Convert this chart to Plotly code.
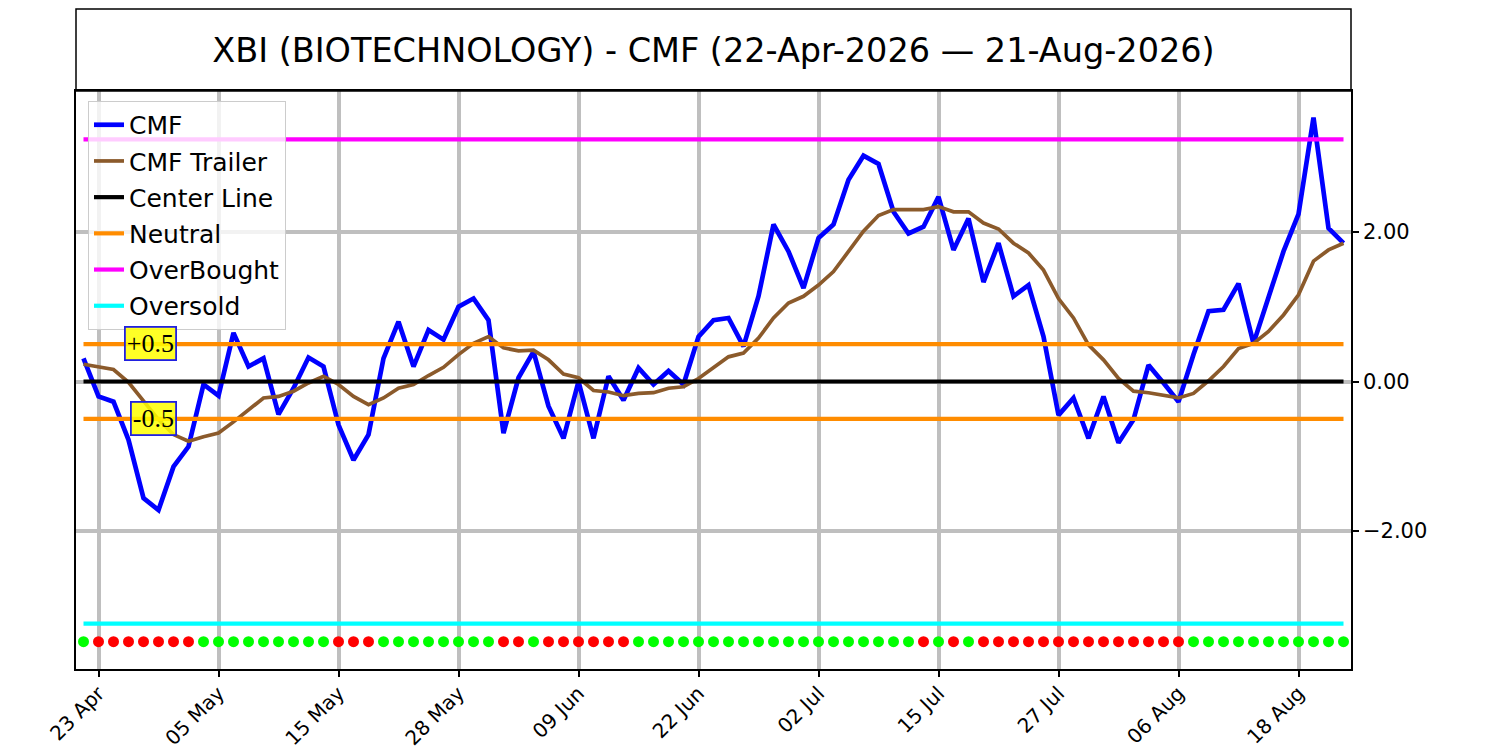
import numpy as np
import pandas as pd
import plotly.graph_objects as go

titolo = "XBI (BIOTECHNOLOGY) - CMF (22-Apr-2026 — 21-Aug-2026)"

# giorni di borsa (festivi NYSE esclusi)
festivi = ["2026-05-25", "2026-06-19", "2026-07-03"]
giorni = pd.bdate_range("2026-04-22", "2026-08-21", freq="C", holidays=festivi)
date = [d.strftime("%Y-%m-%d") for d in giorni]

cmf = [0.31, -0.20, -0.27, -0.78, -1.56, -1.72, -1.14, -0.87, -0.04, -0.19,
       0.65, 0.20, 0.31, -0.44, -0.09, 0.32, 0.20, -0.58, -1.05, -0.71,
       0.31, 0.80, 0.20, 0.69, 0.56, 1.00, 1.11, 0.82, -0.69, 0.05,
       0.40, -0.33, -0.76, 0.00, -0.76, 0.07, -0.25, 0.18, -0.04, 0.14,
       -0.04, 0.60, 0.82, 0.85, 0.47, 1.14, 2.10, 1.74, 1.25, 1.92,
       2.10, 2.70, 3.02, 2.91, 2.27, 1.98, 2.07, 2.47, 1.76, 2.18,
       1.33, 1.85, 1.14, 1.29, 0.60, -0.45, -0.22, -0.76, -0.20, -0.82,
       -0.51, 0.22, -0.02, -0.27, 0.36, 0.94, 0.96, 1.31, 0.51, 1.11,
       1.74, 2.24, 3.53, 2.05, 1.85]

cmf_trailer = [0.23, 0.20, 0.16, -0.01, -0.27, -0.51, -0.71, -0.80, -0.74, -0.69,
               -0.54, -0.38, -0.22, -0.20, -0.13, -0.02, 0.07, -0.04, -0.20, -0.31,
               -0.22, -0.09, -0.04, 0.08, 0.19, 0.36, 0.51, 0.60, 0.45, 0.41,
               0.42, 0.29, 0.10, 0.05, -0.12, -0.14, -0.19, -0.16, -0.15, -0.09,
               -0.07, 0.04, 0.19, 0.33, 0.38, 0.58, 0.85, 1.05, 1.14, 1.29,
               1.47, 1.74, 2.01, 2.22, 2.30, 2.30, 2.30, 2.34, 2.27, 2.27,
               2.12, 2.04, 1.85, 1.72, 1.49, 1.11, 0.85, 0.49, 0.29, 0.04,
               -0.13, -0.15, -0.18, -0.22, -0.16, 0.01, 0.20, 0.44, 0.51, 0.67,
               0.89, 1.16, 1.61, 1.76, 1.85]

# G = verde (acquisto), R = rosso (vendita)
segnali = ("G" + "R" * 7 + "G" * 9 + "R" * 3 + "G" * 8 + "RR" + "G" + "R" * 6
           + "G" * 19 + "R" + "G" + "R" + "G" + "R" * 14 + "G" * 11)

centro = 0.0
neutro = 0.5
ipercomprato = 3.24
ipervenduto = -3.24
livello_punti = -3.48

tick_date = date[1::8]
tick_testo = [pd.Timestamp(d).strftime("%d %b") for d in tick_date]

n = len(date)
colori_punti = ["#00ff00" if s == "G" else "#ff0000" for s in segnali]

fig = go.Figure()

fig.add_trace(go.Scatter(x=date, y=cmf, mode="lines", name="CMF", legendgroup="a",
                         line=dict(color="#0000ff", width=4.7)))
fig.add_trace(go.Scatter(x=date, y=cmf_trailer, mode="lines", name="CMF Trailer",
                         legendgroup="b", line=dict(color="#8b5a2b", width=3.7)))
fig.add_trace(go.Scatter(x=date, y=[centro] * n, mode="lines", name="Center Line",
                         legendgroup="c", line=dict(color="black", width=4.2)))
fig.add_trace(go.Scatter(x=date + [None] + date,
                         y=[neutro] * n + [None] + [-neutro] * n,
                         mode="lines", name="Neutral", legendgroup="d",
                         line=dict(color="#ff8c00", width=4.2)))
fig.add_trace(go.Scatter(x=date, y=[ipercomprato] * n, mode="lines", name="OverBought",
                         legendgroup="e", line=dict(color="#ff00ff", width=4.2)))
fig.add_trace(go.Scatter(x=date, y=[ipervenduto] * n, mode="lines", name="Oversold",
                         legendgroup="f", line=dict(color="#00ffff", width=4.2)))
fig.add_trace(go.Scatter(x=date, y=[livello_punti] * n, mode="markers",
                         marker=dict(color=colori_punti, size=11, line=dict(width=0)),
                         showlegend=False))

# etichette dei livelli neutri
for testo, xv, yv in [("+0.5", 4.45, neutro + 0.008), ("-0.5", 4.65, -neutro + 0.005)]:
    fig.add_annotation(x=xv, y=yv, text=testo, showarrow=False,
                       font=dict(family="Liberation Serif", size=26, color="black"),
                       bgcolor="rgba(255,255,0,0.85)", bordercolor="#2020e0",
                       borderwidth=1.8, borderpad=1)

# riquadro del titolo
fig.add_shape(type="rect", xref="paper", yref="paper", x0=0, x1=1, y0=1, y1=1.1419,
              line=dict(color="black", width=1.5))

fig.update_layout(
    width=1500, height=750,
    margin=dict(l=68, r=157, t=83, b=89, autoexpand=False),
    paper_bgcolor="white", plot_bgcolor="white",
    font=dict(family="DejaVu Sans", color="black"),
    title=dict(text=titolo, x=0.4703, xanchor="center", y=0.944, yanchor="middle",
               font=dict(size=33.5, color="black")),
    showlegend=True,
    legend=dict(x=0.0094, y=0.9827, xanchor="left", yanchor="top",
                traceorder="grouped", tracegroupgap=0.7,
                bgcolor="rgba(255,255,255,0.8)", bordercolor="#cccccc", borderwidth=1,
                font=dict(size=25)),
    xaxis=dict(
        type="category", automargin=False,
        range=[-0.5, n - 0.5],
        tickmode="array", tickvals=tick_date, ticktext=tick_testo,
        tickangle=-45, tickfont=dict(size=20), ticklabelstandoff=-3,
        ticks="outside", ticklen=6, tickwidth=1.5, tickcolor="black",
        showgrid=True, gridcolor="#bfbfbf", gridwidth=4,
        showline=True, linecolor="black", linewidth=1.5, mirror=True,
        zeroline=False,
    ),
    yaxis=dict(
        side="right", automargin=False,
        range=[-3.846, 3.886],
        tickmode="array", tickvals=[-2, 0, 2], tickformat=".2f",
        tickfont=dict(size=21),
        ticks="outside", ticklen=6, tickwidth=1.5, tickcolor="black",
        showgrid=True, gridcolor="#bfbfbf", gridwidth=4,
        showline=True, linecolor="black", linewidth=1.5, mirror=True,
        zeroline=False,
    ),
)

fig.write_html("out.html")
